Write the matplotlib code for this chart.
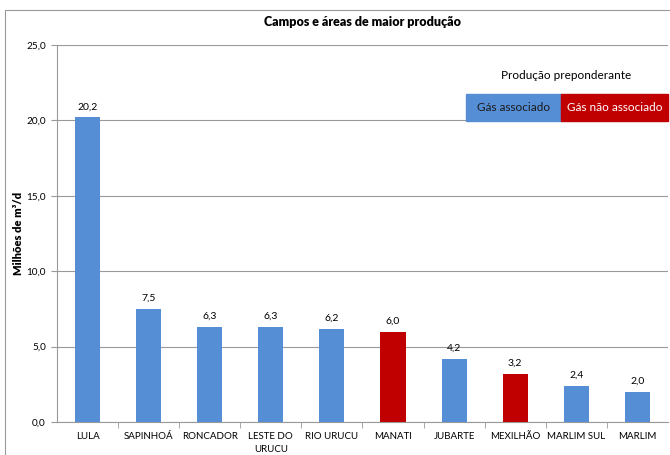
import matplotlib
matplotlib.use('Agg')
import matplotlib.pyplot as plt
from matplotlib.patches import Rectangle

campos = ['LULA', 'SAPINHOÁ', 'RONCADOR', 'LESTE DO\nURUCU', 'RIO URUCU',
          'MANATI', 'JUBARTE', 'MEXILHÃO', 'MARLIM SUL', 'MARLIM']
producao = [20.2, 7.5, 6.3, 6.3, 6.2, 6.0, 4.2, 3.2, 2.4, 2.0]
tipo = ['assoc', 'assoc', 'assoc', 'assoc', 'assoc',
        'nao', 'assoc', 'nao', 'assoc', 'assoc']

azul = '#558ED5'
vermelho = '#C00000'
cores = [azul if t == 'assoc' else vermelho for t in tipo]

plt.rcParams['font.family'] = ['Lato', 'DejaVu Sans']

fig = plt.figure(figsize=(6.7, 4.55), dpi=100)
ax = fig.add_axes([0.085, 0.0725, 0.912, 0.8285])

x = range(len(campos))
ax.bar(x, producao, width=0.41, color=cores, zorder=3)
for i, v in enumerate(producao):
    ax.text(i, v + 0.4, f'{v:.1f}'.replace('.', ','), ha='center', va='bottom', fontsize=7.5)

ax.set_xlim(-0.5, len(campos) - 0.5)
ax.set_ylim(0, 25)
ax.set_yticks([0, 5, 10, 15, 20, 25])
ax.set_yticklabels([f'{t:.1f}'.replace('.', ',') for t in [0, 5, 10, 15, 20, 25]], fontsize=7.2)
ax.set_xticks(list(x))
ax.set_xticklabels(campos, fontsize=7, linespacing=1.6, va='top')
ax.tick_params(axis='x', length=0, pad=7)
ax.set_xticks([i + 0.5 for i in range(len(campos) - 1)], minor=True)
ax.tick_params(axis='x', which='minor', length=4, color='#999999')
ax.tick_params(axis='y', length=4, color='#999999', pad=4)
ax.grid(axis='y', color='#999999', linewidth=0.8, zorder=0)
for s in ['top', 'right']:
    ax.spines[s].set_visible(False)
ax.spines['left'].set_color('#999999')
ax.spines['bottom'].set_color('#999999')
ax.set_ylabel('Milhões de m³/d', fontsize=8, fontweight='heavy')
ax.yaxis.set_label_coords(-0.054, 0.5)
ax.set_title('Campos e áreas de maior produção', fontsize=9, fontweight='heavy', pad=14)

# moldura externa
fig.patches.append(Rectangle((0.008, -0.1), 1.2, 1.078, transform=fig.transFigure,
                             fill=False, edgecolor='#999999', linewidth=0.8))

# legenda
fig.text(0.845, 0.835, 'Produção preponderante', ha='center', va='center', fontsize=8.5)
fig.patches.append(Rectangle((466 / 670, 1 - 121 / 455), 95 / 670, 27 / 455,
                             transform=fig.transFigure, color=azul, zorder=5))
fig.patches.append(Rectangle((561 / 670, 1 - 121 / 455), 107 / 670, 27 / 455,
                             transform=fig.transFigure, color=vermelho, zorder=5))
fig.text(513.5 / 670, 1 - 107.5 / 455, 'Gás associado', ha='center', va='center',
         fontsize=8.5, color='#1a1a1a', zorder=6)
fig.text(614.5 / 670, 1 - 107.5 / 455, 'Gás não associado', ha='center', va='center',
         fontsize=8.5, color='white', zorder=6)

fig.savefig('out.png', dpi=100)
